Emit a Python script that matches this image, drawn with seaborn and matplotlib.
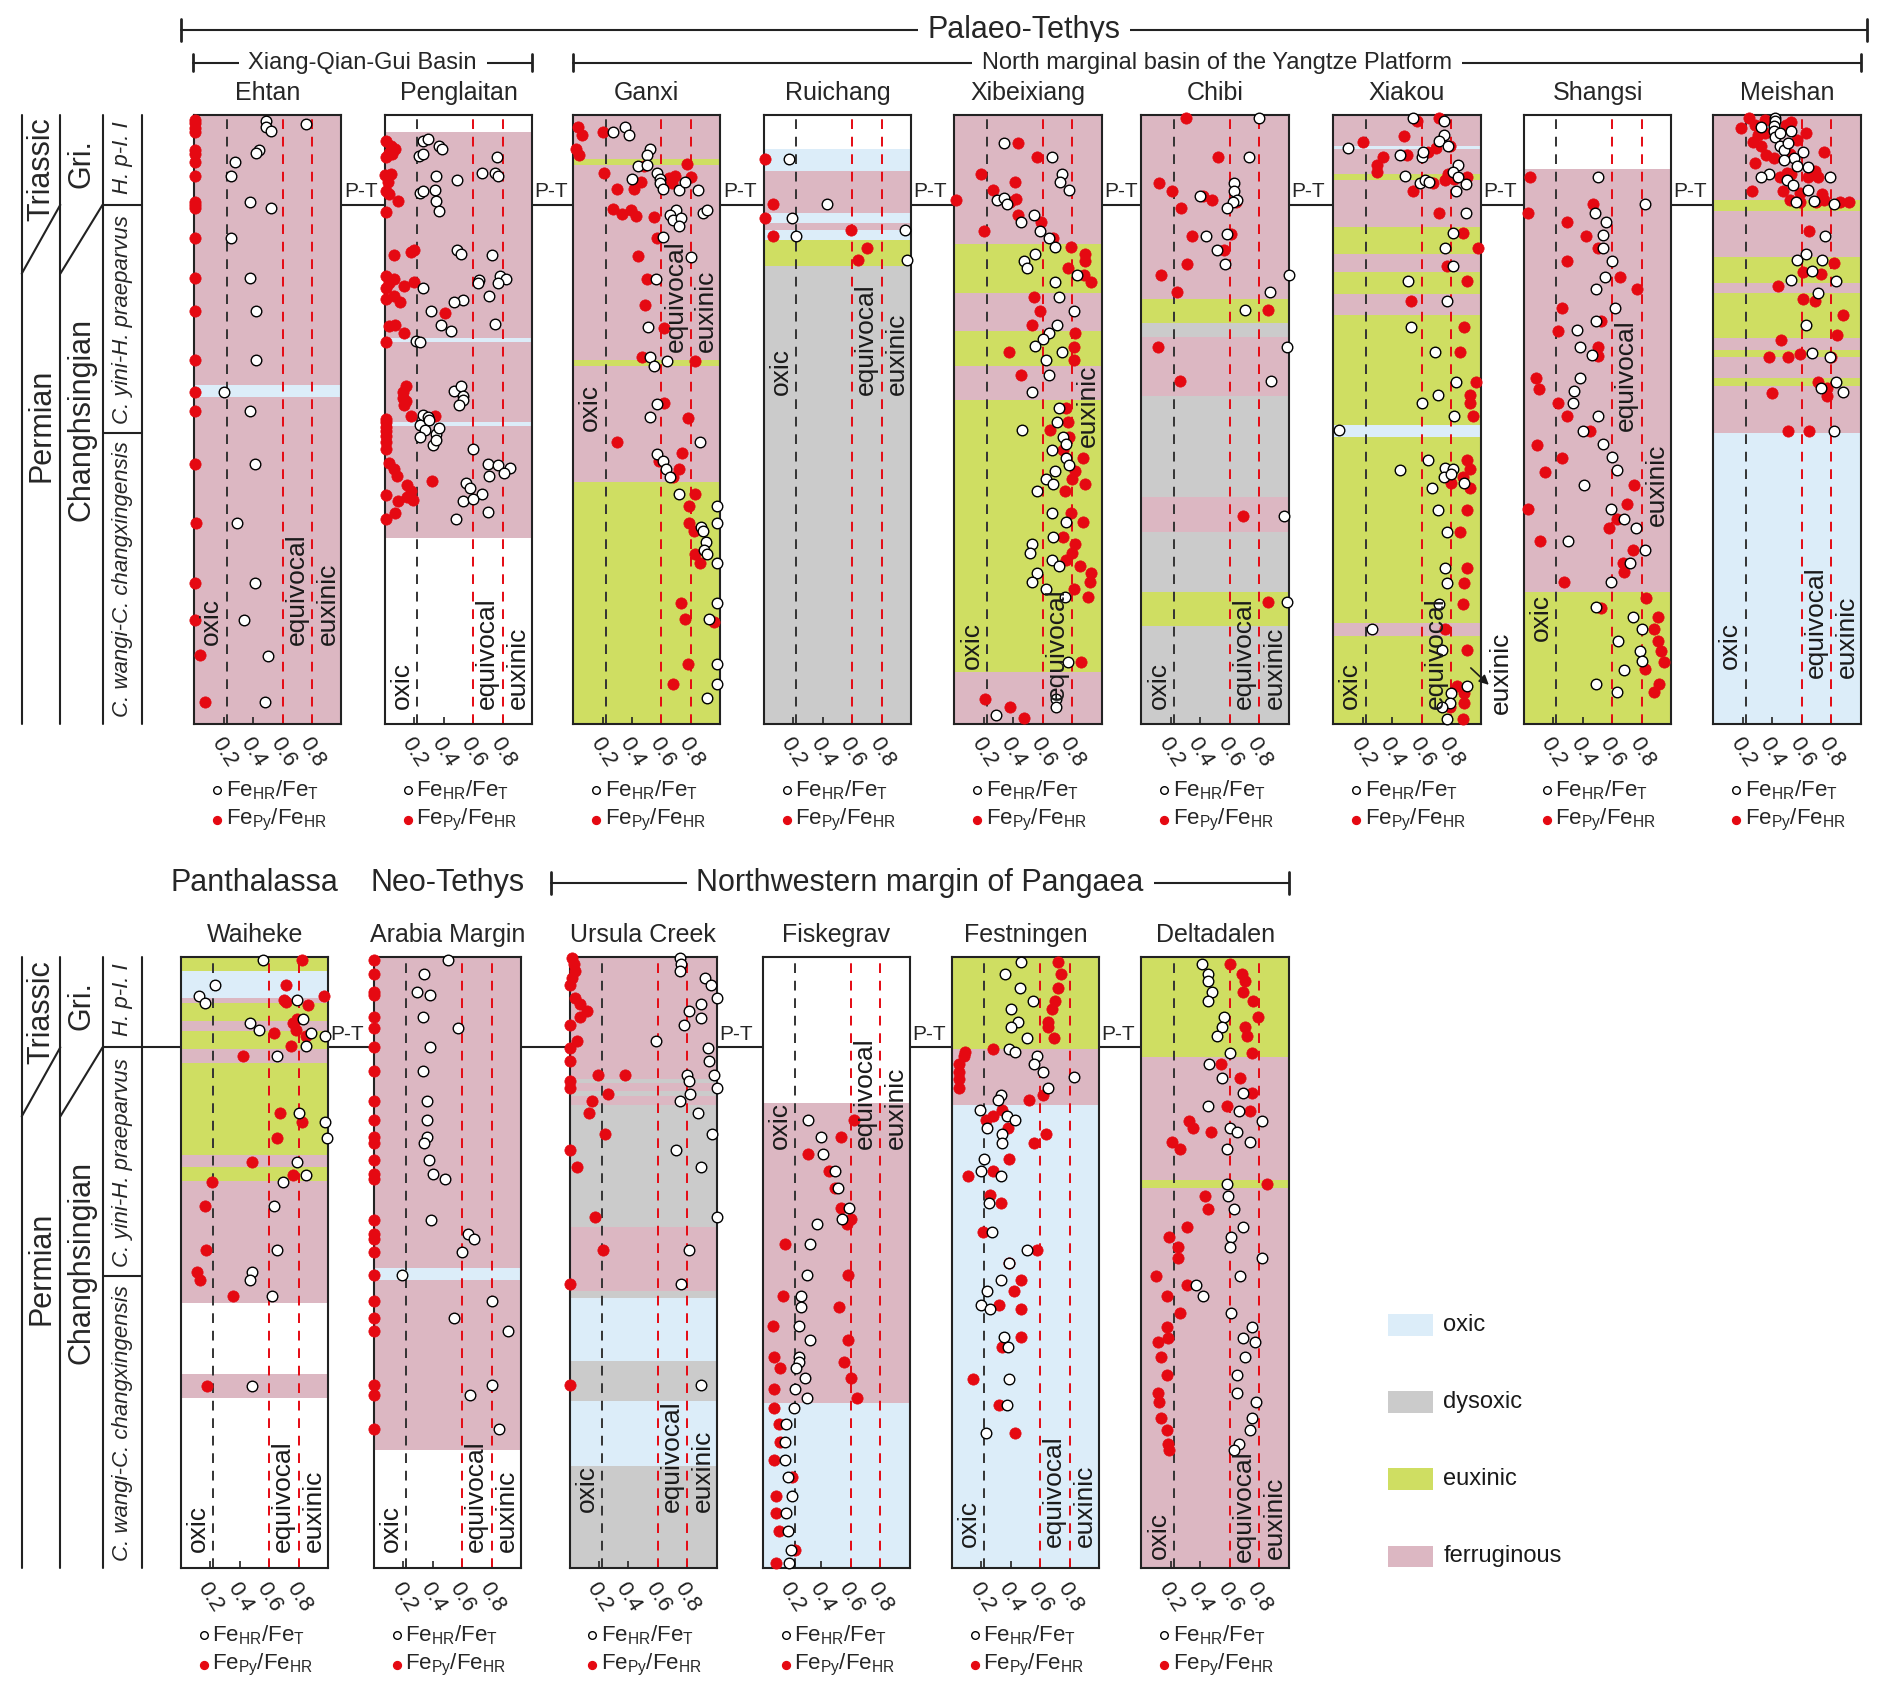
import matplotlib
matplotlib.use("Agg")
import matplotlib.pyplot as plt
import pandas as pd
import seaborn as sns

# ---------------------------------------------------------------------------
# redox bands per section: (bottom, top, state) in % of section height
# O oxic, D dysoxic, E euxinic, F ferruginous (gaps stay white)
# ---------------------------------------------------------------------------
ehtan_bands = [(0, 53.6, 'F'), (53.6, 55.6, 'O'), (55.6, 100, 'F')]
penglaitan_bands = [(30.5, 48.9, 'F'), (48.9, 49.5, 'O'), (49.5, 62.7, 'F'), (62.7, 63.3, 'O'), (63.3, 97.2, 'F')]
ganxi_bands = [(0, 39.7, 'E'), (39.7, 58.8, 'F'), (58.8, 59.8, 'E'), (59.8, 91.7, 'F'), (91.7, 92.7, 'E'), (92.7, 100, 'F')]
ruichang_bands = [(0, 75.1, 'D'), (75.1, 79.5, 'E'), (79.5, 81.1, 'O'), (81.1, 82.2, 'F'), (82.2, 83.9, 'O'),
                  (83.9, 90.7, 'F'), (90.7, 94.4, 'O')]
xibeixiang_bands = [(0, 8.6, 'F'), (8.6, 53.2, 'E'), (53.2, 58.8, 'F'), (58.8, 64.5, 'E'), (64.5, 70.8, 'F'),
                    (70.8, 78.8, 'E'), (78.8, 100, 'F')]
chibi_bands = [(0, 16.0, 'D'), (16.0, 21.7, 'E'), (21.7, 31.5, 'D'), (31.5, 37.2, 'F'), (37.2, 53.9, 'D'),
               (53.9, 63.5, 'F'), (63.5, 65.8, 'D'), (65.8, 69.8, 'E'), (69.8, 100, 'F')]
xiakou_bands = [(0, 14.4, 'E'), (14.4, 16.6, 'F'), (16.6, 47.1, 'E'), (47.1, 49.1, 'O'), (49.1, 67.1, 'E'),
                (67.1, 70.5, 'F'), (70.5, 74.1, 'E'), (74.1, 77.2, 'F'), (77.2, 81.6, 'E'), (81.6, 89.2, 'F'),
                (89.2, 90.3, 'E'), (90.3, 94.4, 'F'), (94.4, 94.9, 'O'), (94.9, 100, 'F')]
shangsi_bands = [(0, 21.7, 'E'), (21.7, 91.1, 'F')]
meishan_bands = [(0, 47.8, 'O'), (47.8, 55.5, 'F'), (55.5, 56.8, 'E'), (56.8, 60.3, 'F'), (60.3, 61.4, 'E'),
                 (61.4, 63.3, 'F'), (63.3, 70.8, 'E'), (70.8, 72.4, 'F'), (72.4, 76.7, 'E'), (76.7, 84.1, 'F'),
                 (84.1, 86.0, 'E'), (86.0, 100, 'F')]
waiheke_bands = [(27.9, 31.8, 'F'), (43.4, 63.4, 'F'), (63.4, 65.6, 'E'), (65.6, 67.6, 'F'), (67.6, 82.6, 'E'),
                 (82.6, 85.0, 'F'), (85.0, 87.8, 'E'), (87.8, 89.5, 'F'), (89.5, 92.4, 'E'), (92.4, 93.2, 'F'),
                 (93.2, 97.7, 'O'), (97.7, 100, 'E')]
arabia_bands = [(19.4, 47.1, 'F'), (47.1, 49.2, 'O'), (49.2, 100, 'F')]
ursula_bands = [(0, 16.7, 'D'), (16.7, 27.3, 'O'), (27.3, 33.9, 'D'), (33.9, 44.2, 'O'), (44.2, 45.3, 'D'),
                (45.3, 55.9, 'F'), (55.9, 75.7, 'D'), (75.7, 77.3, 'F'), (77.3, 78.0, 'D'), (78.0, 79.4, 'F'),
                (79.4, 80.1, 'D'), (80.1, 100, 'F')]
fiskegrav_bands = [(0, 27.1, 'O'), (27.1, 76.1, 'F')]
festningen_bands = [(0, 75.7, 'O'), (75.7, 85.0, 'F'), (85.0, 100, 'E')]
deltadalen_bands = [(0, 62.2, 'F'), (62.2, 63.5, 'E'), (63.5, 83.6, 'F'), (83.6, 100, 'E')]

# ---------------------------------------------------------------------------
# Fe speciation: (ratio, height %)   hr = FeHR/FeT (open), py = FePy/FeHR (red)
# ---------------------------------------------------------------------------
ehtan_hr = [(0.49, 99.0), (0.49, 97.9), (0.52, 97.3), (0.76, 98.5), (0.44, 94.2), (0.42, 93.7), (0.28, 92.2),
            (0.25, 90.0), (0.38, 85.6), (0.52, 84.7), (0.25, 79.7), (0.38, 73.2), (0.42, 67.8), (0.42, 59.8),
            (0.20, 54.5), (0.38, 51.4), (0.41, 42.6), (0.29, 32.9), (0.41, 23.2), (0.34, 17.1), (0.50, 11.2),
            (0.48, 3.6)]
ehtan_py = [(0.005, 99.1), (0.005, 98.6), (0.005, 97.8), (0.005, 97.2), (0.005, 94.2), (0.005, 93.5),
            (0.005, 92.2), (0.005, 90.0), (0.005, 85.6), (0.005, 85.1), (0.005, 84.7), (0.005, 79.7),
            (0.005, 73.2), (0.005, 67.8), (0.005, 59.8), (0.005, 54.5), (0.005, 51.4), (0.005, 42.6),
            (0.01, 32.9), (0.005, 23.2), (0.005, 17.1), (0.04, 11.3), (0.07, 3.6)]

penglaitan_hr = [(0.26, 95.7), (0.29, 96.0), (0.37, 94.8), (0.39, 94.3), (0.23, 93.2), (0.26, 93.6), (0.76, 93.0),
                 (0.66, 90.5), (0.75, 90.4), (0.77, 90.0), (0.35, 90.0), (0.49, 89.2), (0.24, 87.1), (0.26, 87.4),
                 (0.34, 87.7), (0.35, 85.9), (0.37, 84.2), (0.49, 77.8), (0.52, 77.2), (0.73, 76.9), (0.78, 73.5),
                 (0.82, 73.1), (0.64, 72.8), (0.63, 72.3), (0.77, 72.4), (0.26, 71.6), (0.53, 69.6), (0.47, 69.2),
                 (0.71, 70.3), (0.31, 67.8), (0.38, 65.5), (0.45, 64.5), (0.75, 65.7), (0.21, 62.8), (0.24, 62.7),
                 (0.47, 54.7), (0.52, 55.4), (0.53, 53.8), (0.53, 53.1), (0.50, 52.3), (0.26, 50.7), (0.29, 50.4),
                 (0.24, 49.1), (0.27, 48.3), (0.30, 49.9), (0.24, 47.1), (0.35, 47.6), (0.37, 48.6), (0.33, 45.8),
                 (0.35, 46.6), (0.60, 45.2), (0.70, 42.7), (0.77, 42.5), (0.85, 42.0), (0.81, 41.2), (0.71, 40.7),
                 (0.55, 39.5), (0.58, 38.8), (0.66, 37.8), (0.53, 36.6), (0.60, 36.9), (0.70, 34.7), (0.48, 33.7)]
penglaitan_py = [(0.01, 95.6), (0.04, 94.9), (0.07, 94.3), (0.03, 93.7), (0.01, 93.0), (0.05, 93.5), (0.0, 90.1),
                 (0.04, 90.2), (0.02, 89.0), (0.01, 87.5), (0.03, 87.0), (0.09, 85.9), (0.01, 84.0), (0.20, 77.8),
                 (0.18, 77.4), (0.06, 76.9), (0.01, 73.5), (0.06, 73.1), (0.03, 72.4), (0.13, 71.9), (0.20, 72.5),
                 (0.01, 71.6), (0.06, 70.3), (0.10, 69.2), (0.01, 69.7), (0.41, 67.5), (0.07, 65.5), (0.03, 65.3),
                 (0.13, 64.2), (0.01, 62.7), (0.14, 55.4), (0.12, 54.5), (0.12, 53.5), (0.14, 53.0), (0.13, 52.4),
                 (0.18, 50.5), (0.34, 50.6), (0.01, 50.1), (0.01, 49.6), (0.01, 48.8), (0.01, 48.0), (0.01, 47.2),
                 (0.01, 46.3), (0.01, 45.1), (0.03, 42.8), (0.06, 41.8), (0.08, 40.7), (0.15, 39.2), (0.18, 38.3),
                 (0.15, 37.2), (0.19, 36.8), (0.32, 39.8), (0.01, 37.6), (0.09, 36.6), (0.07, 34.6), (0.01, 33.6)]

ganxi_hr = [(0.35, 98.0), (0.27, 97.1), (0.38, 96.7), (0.52, 94.4), (0.50, 93.4), (0.44, 91.5), (0.50, 91.8),
            (0.40, 89.5), (0.57, 90.4), (0.59, 89.5), (0.59, 88.7), (0.61, 87.8), (0.72, 87.7), (0.76, 89.0),
            (0.85, 87.7), (0.88, 83.9), (0.91, 84.3), (0.70, 84.4), (0.66, 83.5), (0.68, 82.7), (0.73, 83.1),
            (0.72, 81.7), (0.61, 79.9), (0.80, 76.7), (0.56, 73.0), (0.51, 65.1), (0.52, 60.3), (0.55, 58.7),
            (0.64, 59.5), (0.57, 52.5), (0.52, 50.3), (0.86, 46.2), (0.57, 44.3), (0.61, 43.2), (0.63, 41.8),
            (0.66, 40.5), (0.72, 37.8), (0.98, 35.7), (0.98, 32.9), (0.87, 32.4), (0.88, 31.7), (0.90, 29.8),
            (0.89, 28.6), (0.91, 27.9), (0.98, 26.4), (0.98, 19.9), (0.92, 17.2), (0.98, 9.8), (0.98, 6.6),
            (0.91, 4.3)]
ganxi_py = [(0.03, 98.0), (0.06, 96.7), (0.20, 97.1), (0.02, 94.4), (0.04, 93.4), (0.77, 91.9), (0.48, 91.5),
            (0.21, 90.4), (0.80, 89.8), (0.65, 89.6), (0.69, 90.0), (0.67, 88.8), (0.46, 88.9), (0.41, 87.8),
            (0.30, 87.8), (0.27, 84.5), (0.33, 83.7), (0.39, 84.3), (0.43, 83.3), (0.55, 83.2), (0.57, 79.7),
            (0.44, 76.8), (0.50, 73.1), (0.49, 68.7), (0.62, 65.0), (0.47, 60.3), (0.83, 59.5), (0.62, 52.7),
            (0.78, 50.2), (0.30, 46.3), (0.74, 44.4), (0.58, 43.2), (0.72, 41.9), (0.68, 40.5), (0.83, 37.8),
            (0.79, 35.8), (0.79, 32.9), (0.82, 31.7), (0.83, 27.9), (0.86, 26.4), (0.73, 19.9), (0.76, 17.3),
            (0.96, 16.8), (0.78, 9.8), (0.68, 6.6)]

ruichang_hr = [(0.17, 92.7), (0.43, 85.4), (0.19, 83.1), (0.22, 80.1), (0.96, 81.0), (0.97, 76.1)]
ruichang_py = [(0.01, 92.7), (0.06, 85.4), (0.01, 83.1), (0.06, 80.1), (0.59, 81.0), (0.70, 78.1), (0.64, 76.1)]

xibeixiang_hr = [(0.34, 95.4), (0.66, 93.0), (0.73, 90.3), (0.72, 89.0), (0.78, 87.6), (0.29, 86.0), (0.34, 86.3),
                 (0.36, 85.4), (0.54, 83.5), (0.45, 82.3), (0.58, 80.9), (0.64, 79.7), (0.68, 78.3), (0.55, 77.2),
                 (0.47, 75.9), (0.49, 74.9), (0.83, 73.6), (0.68, 72.5), (0.71, 70.1), (0.81, 67.7), (0.70, 65.4),
                 (0.64, 64.1), (0.60, 63.1), (0.55, 62.0), (0.73, 61.0), (0.62, 59.8), (0.64, 57.3), (0.53, 54.4),
                 (0.71, 51.8), (0.70, 49.5), (0.46, 48.3), (0.74, 47.1), (0.76, 46.0), (0.66, 44.9), (0.76, 43.7),
                 (0.78, 42.5), (0.68, 41.5), (0.62, 40.2), (0.67, 39.3), (0.56, 38.2), (0.66, 34.6), (0.76, 33.2),
                 (0.67, 30.7), (0.53, 29.6), (0.51, 28.1), (0.66, 26.9), (0.71, 25.9), (0.56, 24.7), (0.53, 23.3),
                 (0.62, 22.1), (0.75, 20.9), (0.77, 10.1), (0.69, 4.1), (0.69, 2.8), (0.28, 1.4)]
xibeixiang_py = [(0.43, 95.4), (0.56, 93.0), (0.18, 90.3), (0.41, 89.0), (0.26, 87.6), (0.42, 86.2), (0.38, 85.6),
                 (0.01, 86.0), (0.43, 83.5), (0.59, 82.3), (0.20, 80.9), (0.67, 79.7), (0.79, 78.3), (0.89, 77.2),
                 (0.89, 75.9), (0.77, 74.9), (0.88, 73.6), (0.93, 72.5), (0.54, 70.1), (0.58, 67.7), (0.53, 65.4),
                 (0.82, 64.1), (0.37, 61.0), (0.81, 61.8), (0.81, 59.8), (0.45, 57.3), (0.76, 51.8), (0.77, 49.5),
                 (0.65, 48.3), (0.78, 47.1), (0.74, 44.9), (0.87, 43.7), (0.82, 41.5), (0.80, 40.2), (0.89, 39.3),
                 (0.75, 38.2), (0.79, 34.6), (0.87, 33.2), (0.74, 30.7), (0.82, 29.6), (0.80, 28.1), (0.76, 26.9),
                 (0.85, 25.9), (0.93, 24.7), (0.92, 23.3), (0.81, 22.1), (0.91, 20.9), (0.86, 10.1), (0.21, 4.1),
                 (0.38, 2.7), (0.47, 1.0)]

chibi_hr = [(0.80, 99.5), (0.73, 93.0), (0.63, 88.7), (0.63, 87.5), (0.65, 86.0), (0.62, 85.6), (0.58, 84.7),
            (0.40, 86.6), (0.44, 80.0), (0.58, 80.4), (0.51, 77.8), (0.57, 75.5), (1.00, 73.7), (0.87, 70.9),
            (0.70, 67.9), (0.99, 61.8), (0.88, 56.3), (0.97, 34.2), (0.99, 20.0)]
chibi_py = [(0.30, 99.5), (0.52, 93.0), (0.12, 88.7), (0.21, 87.5), (0.42, 86.6), (0.48, 86.0), (0.64, 85.6),
            (0.27, 84.7), (0.34, 80.0), (0.61, 80.4), (0.56, 77.8), (0.31, 75.5), (0.13, 73.7), (0.24, 70.9),
            (0.86, 67.9), (0.11, 61.8), (0.26, 56.3), (0.69, 34.2), (0.86, 20.0)]

xiakou_hr = [(0.54, 99.5), (0.75, 99.0), (0.75, 96.6), (0.72, 95.6), (0.78, 94.9), (0.10, 94.6), (0.45, 93.4),
             (0.60, 93.0), (0.61, 93.9), (0.85, 91.8), (0.81, 90.6), (0.49, 90.0), (0.85, 89.7), (0.59, 88.8),
             (0.62, 89.3), (0.65, 89.0), (0.83, 87.5), (0.90, 88.6), (0.90, 83.8), (0.81, 80.5), (0.76, 78.1),
             (0.81, 75.1), (0.51, 72.7), (0.77, 69.4), (0.53, 65.1), (0.69, 61.0), (0.83, 56.1), (0.60, 52.6),
             (0.71, 54.0), (0.82, 50.5), (0.04, 48.3), (0.64, 43.3), (0.45, 41.6), (0.76, 42.0), (0.81, 41.8),
             (0.75, 40.5), (0.80, 41.0), (0.89, 39.5), (0.67, 38.8), (0.71, 35.1), (0.77, 31.5), (0.76, 25.6),
             (0.77, 23.1), (0.72, 19.7), (0.26, 15.6), (0.74, 12.2), (0.80, 5.1), (0.91, 6.3), (0.79, 3.5),
             (0.74, 2.7), (0.77, 0.8)]
xiakou_py = [(0.57, 99.0), (0.72, 99.5), (0.48, 96.5), (0.20, 95.5), (0.79, 94.9), (0.50, 93.4), (0.64, 93.9),
             (0.70, 94.6), (0.34, 93.0), (0.30, 91.8), (0.30, 90.6), (0.78, 90.2), (0.76, 89.2), (0.82, 89.5),
             (0.91, 89.7), (0.68, 88.7), (0.54, 87.5), (0.72, 83.8), (0.88, 80.5), (0.98, 78.1), (0.77, 75.1),
             (0.91, 72.7), (0.53, 69.4), (0.89, 65.1), (0.86, 61.0), (0.97, 56.1), (0.93, 54.0), (0.93, 52.6),
             (0.95, 50.5), (0.91, 43.3), (0.93, 41.8), (0.88, 40.5), (0.80, 39.6), (0.93, 38.8), (0.91, 35.1),
             (0.86, 31.5), (0.91, 25.6), (0.89, 23.1), (0.88, 19.7), (0.76, 15.6), (0.91, 12.2), (0.84, 6.3),
             (0.89, 5.1), (0.89, 3.4), (0.79, 2.7), (0.88, 0.8)]

shangsi_hr = [(0.50, 89.8), (0.82, 85.4), (0.48, 83.9), (0.56, 82.3), (0.54, 80.2), (0.54, 78.1), (0.60, 76.0),
              (0.55, 73.4), (0.49, 71.3), (0.62, 68.3), (0.49, 66.1), (0.36, 64.6), (0.38, 61.9), (0.46, 60.5),
              (0.38, 56.8), (0.34, 54.6), (0.33, 52.7), (0.50, 50.6), (0.40, 48.0), (0.54, 45.9), (0.60, 43.8),
              (0.63, 41.6), (0.41, 39.2), (0.59, 35.2), (0.68, 33.6), (0.76, 32.1), (0.30, 30.0), (0.82, 28.6),
              (0.72, 26.4), (0.59, 23.3), (0.49, 19.2), (0.74, 17.6), (0.80, 15.5), (0.64, 13.6), (0.79, 11.9),
              (0.80, 10.3), (0.68, 8.8), (0.49, 6.6), (0.63, 5.3)]
shangsi_py = [(0.04, 89.8), (0.03, 83.8), (0.47, 85.4), (0.29, 82.3), (0.42, 80.1), (0.50, 78.1), (0.29, 76.0),
              (0.65, 73.4), (0.77, 71.3), (0.26, 68.3), (0.52, 66.1), (0.23, 64.5), (0.50, 61.9), (0.50, 60.4),
              (0.08, 56.8), (0.10, 54.9), (0.23, 52.7), (0.29, 50.6), (0.45, 48.0), (0.09, 45.8), (0.26, 43.7),
              (0.14, 41.4), (0.75, 39.2), (0.70, 36.1), (0.03, 35.3), (0.63, 33.6), (0.58, 32.1), (0.11, 30.0),
              (0.74, 28.6), (0.67, 26.4), (0.68, 24.9), (0.27, 23.3), (0.83, 20.7), (0.52, 19.1), (0.91, 17.6),
              (0.88, 15.5), (0.91, 13.6), (0.93, 12.0), (0.95, 10.2), (0.82, 9.0), (0.92, 6.6), (0.88, 5.3)]

meishan_hr = [(0.42, 99.5), (0.42, 98.9), (0.41, 98.2), (0.41, 97.3), (0.42, 96.3), (0.45, 97.0), (0.53, 97.3),
              (0.32, 98.0), (0.45, 94.9), (0.48, 94.2), (0.51, 95.3), (0.61, 93.8), (0.55, 92.9), (0.48, 92.5),
              (0.57, 91.5), (0.64, 91.4), (0.38, 90.3), (0.32, 89.7), (0.50, 89.2), (0.54, 88.5), (0.64, 87.6),
              (0.79, 89.7), (0.56, 85.6), (0.68, 85.8), (0.82, 85.4), (0.76, 80.1), (0.63, 77.1), (0.57, 76.1),
              (0.67, 74.4), (0.74, 76.1), (0.53, 72.8), (0.83, 72.7), (0.71, 70.8), (0.63, 65.4), (0.67, 60.9),
              (0.79, 60.3), (0.83, 56.1), (0.88, 54.4), (0.73, 55.1), (0.82, 48.1)]
meishan_py = [(0.24, 99.5), (0.19, 97.8), (0.28, 98.3), (0.35, 99.1), (0.35, 97.0), (0.30, 96.6), (0.27, 95.5),
              (0.32, 94.9), (0.36, 93.4), (0.41, 92.9), (0.28, 92.1), (0.49, 98.3), (0.53, 98.8), (0.63, 97.0),
              (0.57, 95.8), (0.52, 93.6), (0.75, 93.9), (0.50, 90.5), (0.53, 90.2), (0.69, 90.8), (0.64, 89.7),
              (0.71, 89.7), (0.45, 89.7), (0.26, 87.5), (0.47, 87.5), (0.59, 87.1), (0.52, 86.0), (0.74, 86.9),
              (0.59, 85.6), (0.70, 85.6), (0.75, 86.0), (0.86, 85.6), (0.92, 85.7), (0.65, 80.9), (0.61, 74.2),
              (0.73, 73.8), (0.82, 75.7), (0.44, 71.9), (0.61, 69.7), (0.69, 69.4), (0.88, 67.1), (0.84, 63.8),
              (0.46, 63.0), (0.38, 60.2), (0.51, 60.3), (0.59, 60.7), (0.80, 60.3), (0.71, 56.1), (0.77, 55.1),
              (0.77, 53.9), (0.40, 54.3), (0.51, 48.1), (0.65, 48.1)]

waiheke_hr = [(0.56, 99.5), (0.23, 95.4), (0.12, 93.6), (0.16, 92.4), (0.79, 93.0), (0.83, 89.8), (0.47, 89.2),
              (0.53, 88.0), (0.88, 87.5), (0.98, 87.1), (0.85, 85.4), (0.65, 83.7), (0.80, 74.5), (0.98, 73.0),
              (0.99, 70.3), (0.79, 66.4), (0.85, 64.4), (0.69, 63.1), (0.63, 59.2), (0.65, 52.0), (0.48, 48.5),
              (0.47, 47.1), (0.62, 44.6), (0.48, 29.9)]
waiheke_py = [(0.82, 99.5), (0.71, 95.4), (0.97, 93.6), (0.70, 93.0), (0.71, 92.6), (0.86, 92.1), (0.79, 89.8),
              (0.76, 89.2), (0.78, 88.1), (0.63, 87.5), (0.85, 87.1), (0.75, 85.4), (0.42, 83.7), (0.67, 74.5),
              (0.82, 73.0), (0.65, 70.3), (0.48, 66.4), (0.76, 64.4), (0.21, 63.1), (0.16, 59.2), (0.17, 52.0),
              (0.11, 48.5), (0.13, 47.1), (0.35, 44.6), (0.18, 29.9)]

arabia_hr = [(0.50, 99.5), (0.34, 97.2), (0.29, 94.2), (0.38, 93.8), (0.33, 90.2), (0.57, 88.4), (0.38, 85.3),
             (0.33, 81.4), (0.36, 76.4), (0.36, 73.3), (0.36, 70.6), (0.34, 69.5), (0.37, 66.7), (0.40, 64.5),
             (0.48, 63.6), (0.39, 56.9), (0.64, 54.7), (0.68, 53.8), (0.60, 51.8), (0.19, 47.9), (0.80, 43.8),
             (0.54, 40.9), (0.91, 38.9), (0.80, 30.0), (0.65, 28.4), (0.85, 22.8)]
arabia_py = [(0.0, 99.5), (0.0, 97.2), (0.0, 94.2), (0.0, 93.8), (0.0, 90.2), (0.0, 88.4), (0.0, 85.3),
             (0.0, 81.4), (0.0, 76.4), (0.0, 73.3), (0.0, 70.6), (0.0, 69.5), (0.0, 66.7), (0.0, 64.5),
             (0.0, 63.6), (0.0, 56.9), (0.0, 54.7), (0.0, 53.8), (0.0, 51.8), (0.0, 47.9), (0.0, 43.8),
             (0.0, 40.9), (0.0, 38.9), (0.0, 30.0), (0.0, 28.4), (0.0, 22.8)]

ursula_hr = [(0.75, 99.8), (0.76, 98.8), (0.75, 97.7), (0.92, 96.5), (0.96, 95.4), (1.0, 93.2), (0.89, 92.2),
             (0.81, 91.1), (0.89, 90.0), (0.78, 88.9), (0.59, 86.2), (0.94, 85.1), (0.95, 82.9), (0.80, 80.7),
             (0.98, 80.7), (0.81, 79.7), (1.0, 78.6), (0.82, 77.5), (0.75, 76.4), (0.87, 74.4), (0.97, 71.1),
             (0.72, 68.4), (0.89, 65.6), (1.0, 57.4), (0.81, 52.0), (0.76, 46.5), (0.89, 30.0)]
ursula_py = [(0.02, 99.8), (0.03, 98.8), (0.04, 97.7), (0.02, 96.5), (0.0, 95.4), (0.04, 93.2), (0.07, 92.2),
             (0.12, 91.1), (0.07, 90.1), (0.0, 88.9), (0.05, 86.2), (0.0, 85.1), (0.0, 83.0), (0.19, 80.7),
             (0.38, 80.7), (0.0, 79.7), (0.0, 78.6), (0.26, 77.5), (0.15, 76.4), (0.13, 74.4), (0.24, 71.1),
             (0.0, 68.4), (0.05, 65.6), (0.17, 57.4), (0.23, 52.0), (0.0, 46.5), (0.0, 30.0)]

fiskegrav_hr = [(0.31, 73.3), (0.40, 70.5), (0.41, 67.7), (0.49, 64.9), (0.51, 62.2), (0.59, 59.0), (0.54, 57.2),
                (0.37, 56.3), (0.32, 53.1), (0.30, 48.0), (0.26, 44.6), (0.26, 42.7), (0.25, 39.7), (0.32, 37.4),
                (0.25, 34.6), (0.25, 33.7), (0.23, 32.7), (0.29, 31.2), (0.22, 29.3), (0.30, 27.9), (0.21, 26.3),
                (0.16, 23.7), (0.15, 20.6), (0.15, 17.7), (0.17, 15.0), (0.20, 11.9), (0.16, 9.0), (0.17, 6.2),
                (0.19, 3.1), (0.18, 0.9)]
fiskegrav_py = [(0.62, 73.3), (0.53, 70.5), (0.31, 67.7), (0.45, 64.9), (0.49, 62.2), (0.53, 59.0), (0.60, 57.2),
                (0.57, 56.3), (0.15, 53.1), (0.58, 48.0), (0.14, 44.6), (0.52, 42.7), (0.07, 39.7), (0.58, 37.4),
                (0.08, 34.6), (0.12, 32.7), (0.55, 33.7), (0.60, 31.2), (0.08, 29.3), (0.64, 27.9), (0.08, 26.3),
                (0.11, 23.7), (0.12, 20.6), (0.08, 17.7), (0.20, 15.0), (0.09, 11.8), (0.09, 9.0), (0.11, 6.2),
                (0.22, 3.1), (0.09, 0.9)]

festningen_hr = [(0.47, 99.2), (0.36, 97.2), (0.46, 94.9), (0.55, 92.8), (0.40, 91.4), (0.45, 89.4), (0.40, 88.5),
                 (0.51, 86.8), (0.39, 84.9), (0.43, 84.5), (0.58, 83.7), (0.56, 82.4), (0.62, 81.1), (0.83, 80.4),
                 (0.65, 78.6), (0.33, 77.4), (0.31, 76.6), (0.19, 75.0), (0.37, 73.9), (0.43, 73.3), (0.24, 72.0),
                 (0.34, 71.0), (0.34, 69.6), (0.22, 66.9), (0.20, 64.9), (0.33, 64.1), (0.25, 59.7), (0.27, 55.0),
                 (0.51, 52.0), (0.39, 50.0), (0.33, 47.1), (0.24, 45.3), (0.20, 43.1), (0.26, 42.5), (0.35, 37.9),
                 (0.38, 36.2), (0.39, 31.0), (0.37, 26.7), (0.23, 22.1)]
festningen_py = [(0.72, 99.2), (0.74, 97.2), (0.72, 94.9), (0.70, 92.8), (0.68, 91.4), (0.65, 89.4), (0.65, 88.5),
                 (0.69, 86.8), (0.28, 84.9), (0.09, 84.5), (0.08, 83.7), (0.05, 82.4), (0.05, 81.1), (0.05, 80.1),
                 (0.05, 78.6), (0.52, 76.6), (0.62, 77.4), (0.34, 75.0), (0.28, 73.9), (0.23, 73.3), (0.38, 72.0),
                 (0.64, 71.0), (0.56, 69.6), (0.39, 66.9), (0.11, 64.1), (0.28, 64.9), (0.26, 61.1), (0.33, 59.7),
                 (0.21, 55.0), (0.58, 52.0), (0.39, 50.0), (0.47, 47.1), (0.42, 45.3), (0.32, 43.1), (0.47, 42.4),
                 (0.47, 37.9), (0.34, 36.2), (0.14, 31.0), (0.32, 26.7), (0.43, 22.1)]

deltadalen_hr = [(0.41, 98.8), (0.45, 97.2), (0.45, 96.1), (0.48, 94.3), (0.45, 92.8), (0.56, 90.2), (0.55, 88.5),
                 (0.51, 87.1), (0.60, 84.3), (0.46, 82.4), (0.55, 80.2), (0.69, 77.7), (0.45, 75.6), (0.66, 74.8),
                 (0.82, 73.2), (0.60, 72.0), (0.65, 71.3), (0.74, 69.8), (0.58, 68.5), (0.58, 62.9), (0.59, 60.9),
                 (0.63, 58.7), (0.69, 55.9), (0.61, 54.2), (0.60, 52.5), (0.82, 50.8), (0.67, 47.8), (0.37, 46.3),
                 (0.42, 44.6), (0.61, 41.7), (0.75, 39.4), (0.69, 37.6), (0.77, 37.1), (0.70, 34.5), (0.65, 31.6),
                 (0.65, 28.7), (0.78, 27.2), (0.75, 24.6), (0.74, 22.6), (0.66, 20.3), (0.63, 19.3)]
deltadalen_py = [(0.60, 98.8), (0.68, 97.2), (0.70, 96.1), (0.69, 94.3), (0.76, 92.8), (0.79, 90.2), (0.70, 88.5),
                 (0.72, 87.1), (0.75, 84.3), (0.54, 82.4), (0.67, 80.2), (0.75, 77.7), (0.58, 75.6), (0.74, 74.8),
                 (0.32, 73.2), (0.35, 72.0), (0.47, 71.3), (0.21, 69.8), (0.26, 68.5), (0.85, 62.9), (0.43, 60.9),
                 (0.45, 58.7), (0.31, 55.9), (0.19, 54.2), (0.25, 52.5), (0.25, 50.8), (0.10, 47.8), (0.31, 46.3),
                 (0.17, 44.6), (0.26, 41.7), (0.17, 39.4), (0.18, 37.6), (0.11, 37.1), (0.13, 34.5), (0.17, 31.6),
                 (0.11, 28.7), (0.12, 27.2), (0.13, 24.6), (0.17, 22.6), (0.18, 20.3), (0.19, 19.3)]

# start heights of the rotated 'oxic', 'equivocal', 'euxinic' labels
label_starts = {
    'Ehtan': (13, 13, 13), 'Penglaitan': (2.5, 2.5, 2.5), 'Ganxi': (48, 61, 61), 'Ruichang': (54, 54, 54),
    'Xibeixiang': (9, 4, 45.5), 'Chibi': (2.4, 2.4, 2.4), 'Xiakou': (2.4, 2.4, None), 'Shangsi': (13.6, 48, 32.5),
    'Meishan': (9, 7.5, 7.5), 'Waiheke': (2.7, 2.7, 2.7), 'Arabia Margin': (2.7, 2.7, 2.7),
    'Ursula Creek': (9.2, 9.2, 9.2), 'Fiskegrav': (68.6, 68.6, 68.6), 'Festningen': (3.5, 3.5, 3.5),
    'Deltadalen': (1.5, 1.0, 1.5),
}

PT_LEVEL = 85.2
FILL = {'O': '#dcedf9', 'D': '#cbcbcb', 'E': '#cfde62', 'F': '#dcb7c2'}
RED = '#e50912'

sns.set_theme(style='white')
plt.rcParams['font.family'] = ['Liberation Sans', 'DejaVu Sans']
plt.rcParams['mathtext.fontset'] = 'custom'
plt.rcParams['mathtext.rm'] = 'Liberation Sans'
plt.rcParams['mathtext.it'] = 'Liberation Sans:italic'

# layout is worked out on a 1568 x 1409 grid, then scaled to the figure
SW, SH = 1568.0, 1409.0
PW = 122
top_row = [('Ehtan', 161, ehtan_bands, ehtan_hr, ehtan_py),
           ('Penglaitan', 319, penglaitan_bands, penglaitan_hr, penglaitan_py),
           ('Ganxi', 475, ganxi_bands, ganxi_hr, ganxi_py),
           ('Ruichang', 633, ruichang_bands, ruichang_hr, ruichang_py),
           ('Xibeixiang', 791, xibeixiang_bands, xibeixiang_hr, xibeixiang_py),
           ('Chibi', 946, chibi_bands, chibi_hr, chibi_py),
           ('Xiakou', 1105, xiakou_bands, xiakou_hr, xiakou_py),
           ('Shangsi', 1263, shangsi_bands, shangsi_hr, shangsi_py),
           ('Meishan', 1420, meishan_bands, meishan_hr, meishan_py)]
bottom_row = [('Waiheke', 150, waiheke_bands, waiheke_hr, waiheke_py),
              ('Arabia Margin', 310, arabia_bands, arabia_hr, arabia_py),
              ('Ursula Creek', 472, ursula_bands, ursula_hr, ursula_py),
              ('Fiskegrav', 632, fiskegrav_bands, fiskegrav_hr, fiskegrav_py),
              ('Festningen', 789, festningen_bands, festningen_hr, festningen_py),
              ('Deltadalen', 946, deltadalen_bands, deltadalen_hr, deltadalen_py)]

fig = plt.figure(figsize=(18.92, 17.0), dpi=100)
bg = fig.add_axes([0, 0, 1, 1])
bg.set_xlim(0, SW)
bg.set_ylim(SH, 0)
bg.axis('off')

LW = 1.5


def draw_section(name, left, top, bottom, bands, hr, py):
    ax = fig.add_axes([left / SW, 1 - bottom / SH, PW / SW, (bottom - top) / SH])
    for b, t, s in bands:
        ax.axhspan(b, t, color=FILL[s], lw=0, zorder=0)
    ax.axvline(0.22, color='#333333', lw=1.4, ls=(0, (5, 4)), zorder=1)
    for v in (0.6, 0.8):
        ax.axvline(v, color=RED, lw=1.4, ls=(0, (5, 4)), zorder=1)
    d_py = pd.DataFrame(py, columns=['ratio', 'height'])
    d_hr = pd.DataFrame(hr, columns=['ratio', 'height'])
    sns.scatterplot(data=d_py, x='ratio', y='height', ax=ax, color=RED, edgecolor=RED, s=66,
                    linewidth=0.5, clip_on=False, zorder=3, legend=False)
    sns.scatterplot(data=d_hr, x='ratio', y='height', ax=ax, color='white', edgecolor='black', s=58,
                    linewidth=1.0, clip_on=False, zorder=4, legend=False)
    ax.set_xlim(0, 1)
    ax.set_ylim(0, 100)
    ax.set_xlabel('')
    ax.set_ylabel('')
    ax.set_yticks([])
    ax.set_xticks([0.2, 0.4, 0.6, 0.8])
    ax.set_xticklabels(['0.2', '0.4', '0.6', '0.8'], rotation=-58, ha='center', va='top', fontsize=16)
    ax.tick_params(axis='x', direction='in', length=5, width=1.2, bottom=True, pad=7, colors='#222222')
    for sp in ax.spines.values():
        sp.set_visible(True)
        sp.set_color('#222222')
        sp.set_linewidth(LW)
    ax.set_facecolor('white')
    s_ox, s_eq, s_eu = label_starts[name]
    kw = dict(rotation=90, ha='center', va='bottom', fontsize=19, color='#1a1a1a', zorder=5)
    ax.text(0.115, s_ox, 'oxic', **kw)
    ax.text(0.695, s_eq, 'equivocal', **kw)
    if s_eu is None:
        ax.text(1.14, 1.7, 'euxinic', clip_on=False, **kw)
        ax.annotate('', xy=(1.07, 6.1), xytext=(0.92, 9.5), annotation_clip=False,
                    arrowprops=dict(arrowstyle='-|>', color='#1a1a1a', lw=1.2, mutation_scale=14))
    else:
        ax.text(0.905, s_eu, 'euxinic', **kw)
    # section name and per-panel symbol key
    bg.text(left + PW / 2, top - 18, name, ha='center', va='center', fontsize=18)
    ky1 = bottom + 55
    ky2 = bottom + 80
    bg.scatter([left + 19], [ky1], s=30, facecolor='white', edgecolor='black', linewidth=1.0)
    bg.scatter([left + 19], [ky2], s=32, color=RED)
    bg.text(left + 26, ky1, r'Fe$_\mathregular{HR}$/Fe$_\mathregular{T}$', va='center', fontsize=16)
    bg.text(left + 26, ky2, r'Fe$_\mathregular{Py}$/Fe$_\mathregular{HR}$', va='center', fontsize=16)
    return ax


def draw_column(top, bottom, extend_to=None):
    h = bottom - top
    pt = bottom - PT_LEVEL / 100 * h
    zone = top + 0.522 * h
    diag = pt + 0.113 * h
    for x in (18, 50, 85, 118):
        bg.plot([x, x], [top, bottom], color='#222222', lw=LW)
    bg.plot([85, extend_to if extend_to else 118], [pt, pt], color='#222222', lw=LW)
    bg.plot([85, 118], [zone, zone], color='#222222', lw=LW)
    bg.plot([50, 18], [pt, diag], color='#222222', lw=LW)
    bg.plot([85, 50], [pt, diag], color='#222222', lw=LW)
    big = dict(rotation=90, ha='center', va='center', fontsize=22)
    small = dict(rotation=90, ha='center', va='center', fontsize=16, style='italic')
    bg.text(34, top + 0.09 * h, 'Triassic', **big)
    bg.text(34, top + 0.51 * h, 'Permian', **big)
    bg.text(67.5, top + 0.08 * h, 'Gri.', **big)
    bg.text(67.5, top + 0.50 * h, 'Changhsingian', **big)
    bg.text(101.5, top + 0.07 * h, 'H. p-I. I', **small)
    bg.text(101.5, top + 0.336 * h, 'C. yini-H. praeparvus', **small)
    bg.text(101.5, top + 0.762 * h, 'C. wangi-C. changxingensis', **small)
    return pt


def bracket(x0, x1, y, label, size, cap=8, xc=None):
    bg.plot([x0, x1], [y, y], color='#222222', lw=LW, zorder=1)
    bg.plot([x0, x0], [y - cap, y + cap], color='#222222', lw=LW + 0.5)
    bg.plot([x1, x1], [y - cap, y + cap], color='#222222', lw=LW + 0.5)
    bg.text(xc if xc else (x0 + x1) / 2, y, label, ha='center', va='center', fontsize=size,
            zorder=2, bbox=dict(facecolor='white', edgecolor='none', pad=7))


# stratigraphic columns
pt_top = draw_column(95, 600)
pt_bot = draw_column(793, 1300, extend_to=150)

# sections
for name, left, bands, hr, py in top_row:
    draw_section(name, left, 95, 600, bands, hr, py)
for name, left, bands, hr, py in bottom_row:
    draw_section(name, left, 793, 1300, bands, hr, py)

# P-T connectors
for row, pt, labelled in ((top_row, pt_top, None), (bottom_row, pt_bot, {0, 2, 3, 4})):
    for i in range(len(row) - 1):
        x0 = row[i][1] + PW
        x1 = row[i + 1][1]
        bg.plot([x0, x1], [pt, pt], color='#222222', lw=LW)
        if labelled is None or i in labelled:
            bg.text(x0 + 2, pt - 11, 'P-T', ha='left', va='center', fontsize=15)

# region headers
bracket(150, 1547, 25, 'Palaeo-Tethys', 22, cap=9)
bracket(160, 441, 52, 'Xiang-Qian-Gui Basin', 17, cap=7)
bracket(475, 1542, 52, 'North marginal basin of the Yangtze Platform', 17, cap=7)
bg.text(211, 732, 'Panthalassa', ha='center', va='center', fontsize=22)
bg.text(371, 732, 'Neo-Tethys', ha='center', va='center', fontsize=22)
bracket(457, 1068, 732, 'Northwestern margin of Pangaea', 22, cap=9)

# redox legend
for i, (code, lab) in enumerate([('O', 'oxic'), ('D', 'dysoxic'), ('E', 'euxinic'), ('F', 'ferruginous')]):
    yc = 1098 + 64 * i
    bg.add_patch(plt.Rectangle((1150, yc - 9), 38, 18, facecolor=FILL[code], edgecolor='none'))
    bg.text(1196, yc, lab, ha='left', va='center', fontsize=17, color='#1a1a1a')

fig.savefig('out.png', dpi=100)
